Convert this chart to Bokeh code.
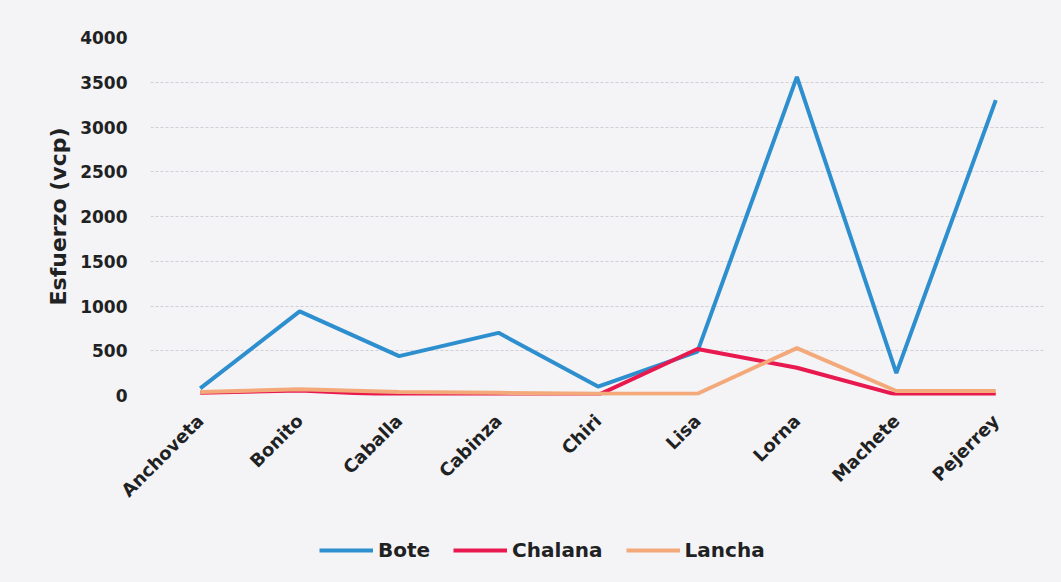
import math
from bokeh.plotting import figure
from bokeh.layouts import column
from bokeh.models import Range1d, Legend, LegendItem, FactorRange
from bokeh.embed import file_html
from bokeh.resources import INLINE

# Fishing effort by species and vessel type
species = ["Anchoveta", "Bonito", "Caballa", "Cabinza", "Chiri",
           "Lisa", "Lorna", "Machete", "Pejerrey"]
bote = [80, 940, 440, 700, 100, 490, 3560, 250, 3300]
chalana = [30, 55, 5, 5, 5, 520, 310, 10, 10]
lancha = [40, 70, 40, 30, 20, 20, 530, 50, 50]
y_ticks = [0, 500, 1000, 1500, 2000, 2500, 3000, 3500, 4000]

series = [("Bote", bote, "#2e8fcf"),
          ("Chalana", chalana, "#e8194f"),
          ("Lancha", lancha, "#f4a97a")]

bg = "#f4f3f6"
font = "DejaVu Sans"
ink = "#1e2222"

p = figure(width=1061, height=520, x_range=FactorRange(*species),
           y_range=Range1d(0, 4000), output_backend="svg",
           toolbar_location=None, background_fill_color=bg,
           border_fill_color=bg, outline_line_color=None,
           min_border_left=150, min_border_right=16,
           min_border_top=37, min_border_bottom=125,
           styles={"background-color": bg})

for name, vals, color in series:
    p.line(species, vals, line_color=color, line_width=4)

p.yaxis.ticker = y_ticks
p.yaxis.axis_label = "Esfuerzo (vcp)"
p.yaxis.axis_label_text_font = font
p.yaxis.axis_label_text_font_size = "22px"
p.yaxis.axis_label_text_font_style = "bold"
p.yaxis.axis_label_text_color = ink
p.yaxis.axis_label_standoff = 6

for ax in (p.xaxis, p.yaxis):
    ax.axis_line_color = None
    ax.major_tick_line_color = None
    ax.minor_tick_line_color = None
    ax.major_label_text_font = font
    ax.major_label_text_font_style = "bold"
    ax.major_label_text_color = ink

p.yaxis.major_label_text_font_size = "17px"
p.yaxis.major_label_standoff = 17
p.xaxis.major_label_text_font_size = "18px"
p.xaxis.major_label_orientation = math.pi / 4
p.xaxis.major_label_standoff = 16

p.xgrid.grid_line_color = None
p.ygrid.grid_line_color = "#cfcfd6"
p.ygrid.grid_line_dash = "3 2"
p.ygrid.grid_line_width = 1

# Strip under the chart that carries the legend; its frame lines up
# with the chart's frame, and its sample lines lie outside the view
leg = figure(width=1061, height=62, x_range=Range1d(0, 1),
             y_range=Range1d(0, 1), output_backend="svg",
             toolbar_location=None, background_fill_color=bg,
             border_fill_color=bg, outline_line_color=None,
             min_border_left=150, min_border_right=16,
             min_border_top=0, min_border_bottom=0,
             styles={"background-color": bg})
leg.axis.visible = False
leg.grid.visible = False

items = []
for name, vals, color in series:
    r = leg.line([5, 6], [5, 6], line_color=color, line_width=4)
    items.append(LegendItem(label=name, renderers=[r]))

legend = Legend(items=items, orientation="horizontal", location=(169, 20),
                background_fill_alpha=0, border_line_color=None,
                label_text_font=font, label_text_font_size="20px",
                label_text_font_style="bold",
                label_text_color=ink, glyph_width=54,
                spacing=23, label_standoff=5, padding=5, margin=0)
leg.add_layout(legend, "center")

layout = column(p, leg, spacing=0, styles={"background-color": bg})
open("out.html", "w").write(file_html(layout, INLINE))
